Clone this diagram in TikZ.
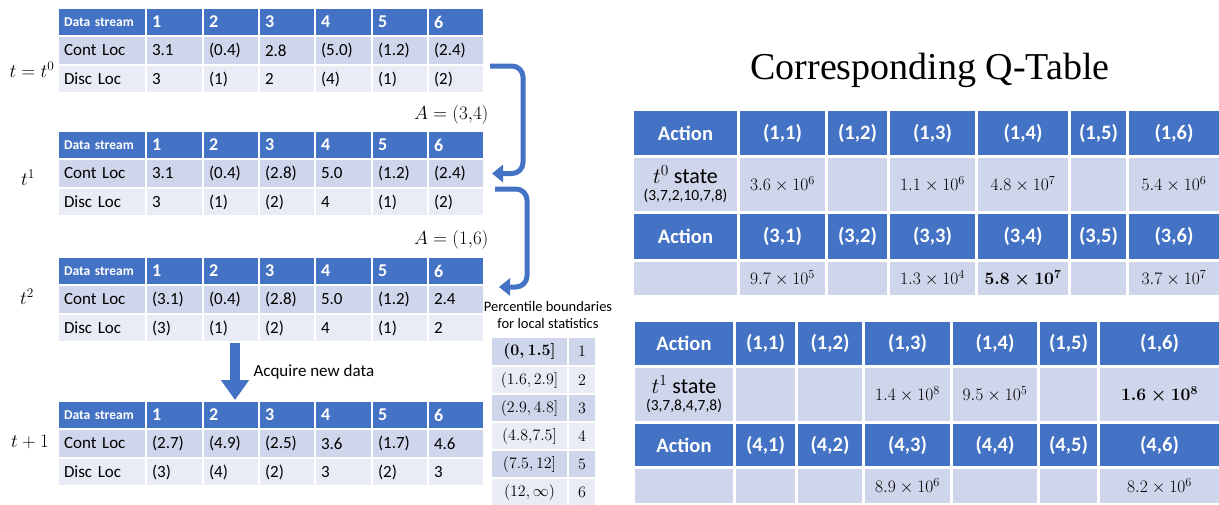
\RequirePackage{fix-cm}
\documentclass[tikz,border=0pt]{standalone}
\usepackage{amsmath}
\usepackage{fontspec}
\setmainfont{Carlito}
\newfontfamily\seriffont{Liberation Serif}
\usetikzlibrary{arrows.meta}
\definecolor{hblue}{HTML}{4472C4}
\definecolor{rowA}{HTML}{CFD5EA}
\definecolor{rowB}{HTML}{E9EBF5}
\newcommand\fsA{\fontsize{17}{20}\selectfont}
\newcommand\fsHs{\fontsize{13.5}{16}\selectfont\bfseries}
\newcommand\fsHn{\fontsize{18}{20}\selectfont\bfseries}
\newcommand\fsM{\fontsize{19}{21}\selectfont}
\newcommand\fsQh{\fontsize{20.5}{23}\selectfont\bfseries}
\newcommand\fsQv{\fontsize{17.5}{20}\selectfont}
\newcommand\fsSt{\fontsize{22}{24}\selectfont}
\newcommand\fsTu{\fontsize{15.5}{17}\selectfont}
\newcommand\fsP{\fontsize{14.5}{16.5}\selectfont}
\newcommand\fsPm{\fontsize{16}{18}\selectfont}
\def\colx{{57,145,202,258,314,371,427,483}}
\def\qxa{{631,737,825,887,975,1068,1126,1219}}
\def\qxb{{632,733,795,862,950,1037,1097,1219}}
\tikzset{
  lcell/.style={draw=white, line width=2pt, anchor=north west, inner xsep=6pt, inner ysep=0pt, align=left},
  qcell/.style={draw=white, line width=3pt, anchor=north west, inner sep=0pt, align=center},
  pcell/.style={draw=white, line width=2pt, anchor=north west, inner sep=0pt, align=center, font=\fsPm},
  hdr/.style={fill=hblue, text=white},
  ra/.style={fill=rowA},
  rb/.style={fill=rowB},
  bigarrow/.style={draw=hblue, line width=5pt, rounded corners=11pt, -{Triangle[length=11pt,width=17pt]}},
  blockarrow/.style={draw=hblue, line width=10pt, -{Triangle[length=20pt,width=27pt]}},
}
\newcommand\lefttable[4]{%
  \node[lcell,hdr,text width=76pt,minimum height=28pt,font=\fsHs] (#1h0) at (57,#2) {Data stream};
  \node[lcell,ra,text width=76pt,minimum height=29pt,font=\fsA] (#1c0) at (57,#2+28) {Cont Loc};
  \node[lcell,rb,text width=76pt,minimum height=28pt,font=\fsA] (#1d0) at (57,#2+57) {Disc Loc};
  \foreach \i in {1,...,6} {%
    \pgfmathsetmacro\xa{\colx[\i]}%
    \pgfmathsetmacro\tw{\colx[\i+1]-\colx[\i]-12}%
    \node[lcell,hdr,text width=\tw pt,minimum height=28pt,font=\fsHn] (#1h\i) at (\xa,#2) {\i};
  }%
  \foreach \v [count=\i] in {#3} {%
    \pgfmathsetmacro\xa{\colx[\i]}%
    \pgfmathsetmacro\tw{\colx[\i+1]-\colx[\i]-12}%
    \node[lcell,ra,text width=\tw pt,minimum height=29pt,font=\fsA] (#1c\i) at (\xa,#2+28) {\v};
  }%
  \foreach \v [count=\i] in {#4} {%
    \pgfmathsetmacro\xa{\colx[\i]}%
    \pgfmathsetmacro\tw{\colx[\i+1]-\colx[\i]-12}%
    \node[lcell,rb,text width=\tw pt,minimum height=28pt,font=\fsA] (#1d\i) at (\xa,#2+57) {\v};
  }%
}
\newcommand\qrow[7]{%
  \foreach \v [count=\i from 0] in {#7} {%
    \pgfmathsetmacro\xa{#2[\i]}%
    \pgfmathsetmacro\ww{#2[\i+1]-#2[\i]}%
    \node[qcell,#5,minimum width=\ww pt,minimum height=#4 pt,font=#6] (#1\i) at (\xa,#3) {\v};
  }%
}
\newcommand\prow[6]{%
  \node[pcell,#4,minimum width=77pt,minimum height=#3 pt] (P#1a) at (490,#2) {#5};
  \node[pcell,#4,minimum width=28pt,minimum height=#3 pt] (P#1b) at (567,#2) {#6};
}
\begin{document}
\begin{tikzpicture}[x=1pt,y=-1pt]
\useasboundingbox[fill=white] (0,0) rectangle (1219,504);
% left tables
\lefttable{T0}{7}{3.1,(0.4),2.8,(5.0),(1.2),(2.4)}{3,(1),2,(4),(1),(2)}
\lefttable{T1}{130}{3.1,(0.4),(2.8),5.0,(1.2),(2.4)}{3,(1),(2),4,(1),(2)}
\lefttable{T2}{256}{(3.1),(0.4),(2.8),5.0,(1.2),2.4}{(3),(1),(2),4,(1),2}
\lefttable{T3}{400}{(2.7),(4.9),(2.5),3.6,(1.7),4.6}{(3),(4),(2),3,(2),3}
% time labels
\node[font=\fsM] (l0) at (32,70) {$t=t^{0}$};
\node[font=\fsM] (l1) at (28,178) {$t^{1}$};
\node[font=\fsM] (l2) at (27,297) {$t^{2}$};
\node[font=\fsM] (l3) at (30,442) {$t+1$};
% action arrows
\draw[bigarrow] ([xshift=5pt]T0c6.south east) -| ([xshift=38pt]T1c6.east) -- ([xshift=7pt]T1c6.east);
\draw[bigarrow] ([xshift=10pt]T1c6.south east) -| ([xshift=42pt,yshift=-3pt]T2c6.north east) -- ([xshift=14pt,yshift=-3pt]T2c6.north east);
\node[anchor=east,font=\fsM] (a1) at (492,115) {$A=(3{,}4)$};
\node[anchor=east,font=\fsM] (a2) at (492,240) {$A=(1{,}6)$};
% acquire arrow
\draw[blockarrow] ([xshift=4pt]T2d2.south) -- ([xshift=4pt]T3h2.north);
\node[anchor=west,font=\fsA] (acq) at (250,372) {Acquire new data};
% percentile table
\node[font=\fsP,align=center] (ptitle) at (548,315) {Percentile boundaries\\for local statistics};
\prow{1}{336}{29}{ra}{{\boldmath$(0,1.5]$}}{$1$}
\prow{2}{365}{28}{rb}{$(1.6,2.9]$}{$2$}
\prow{3}{393}{28}{ra}{$(2.9,4.8]$}{$3$}
\prow{4}{421}{28}{rb}{$(4.8{,}7.5]$}{$4$}
\prow{5}{449}{28}{ra}{$(7.5,12]$}{$5$}
\prow{6}{477}{28}{rb}{$(12,\infty)$}{$6$}
% Q-table title
\node[font=\seriffont\fontsize{38}{44}\selectfont] (title) at (930,70) {Corresponding Q-Table};
% Q-table 1
\qrow{QaH}{\qxa}{108}{47}{hdr}{\fsQh}{Action,{(1,1)},{(1,2)},{(1,3)},{(1,4)},{(1,5)},{(1,6)}}
\qrow{QaR}{\qxa}{155}{56}{ra}{\fsQv}{{{\fsSt $t^{0}$ state}\\[-3pt]{\fsTu (3,7,2,10,7,8)}},{$3.6\times10^{6}$},{},{$1.1\times10^{6}$},{$4.8\times10^{7}$},{},{$5.4\times10^{6}$}}
\qrow{QaG}{\qxa}{211}{48}{hdr}{\fsQh}{Action,{(3,1)},{(3,2)},{(3,3)},{(3,4)},{(3,5)},{(3,6)}}
\qrow{QaS}{\qxa}{259}{36}{ra}{\fsQv}{{},{$9.7\times10^{5}$},{},{$1.3\times10^{4}$},{{\boldmath$5.8\times10^{7}$}},{},{$3.7\times10^{7}$}}
% Q-table 2
\qrow{QbH}{\qxb}{319}{46}{hdr}{\fsQh}{Action,{(1,1)},{(1,2)},{(1,3)},{(1,4)},{(1,5)},{(1,6)}}
\qrow{QbR}{\qxb}{365}{56}{ra}{\fsQv}{{{\fsSt $t^{1}$ state}\\[-3pt]{\fsTu (3,7,8,4,7,8)}},{},{},{$1.4\times10^{8}$},{$9.5\times10^{5}$},{},{{\boldmath$1.6\times10^{8}$}}}
\qrow{QbG}{\qxb}{421}{45}{hdr}{\fsQh}{Action,{(4,1)},{(4,2)},{(4,3)},{(4,4)},{(4,5)},{(4,6)}}
\qrow{QbS}{\qxb}{466}{37}{ra}{\fsQv}{{},{},{},{$8.9\times10^{6}$},{},{},{$8.2\times10^{6}$}}
\end{tikzpicture}
\end{document}
